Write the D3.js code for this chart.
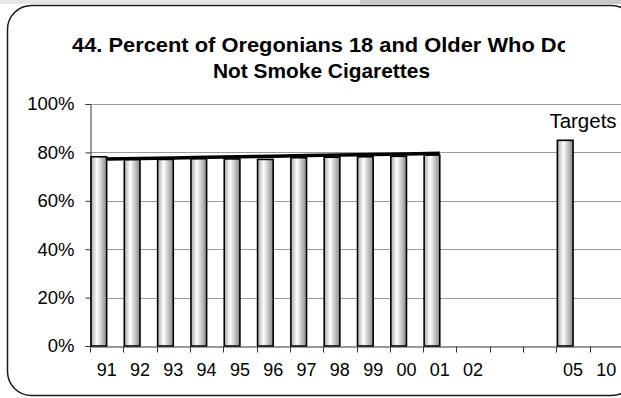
<!DOCTYPE html>
<html>
<head>
<meta charset="utf-8">
<script src="https://cdn.jsdelivr.net/npm/d3@7"></script>
<style>
  html, body { margin: 0; padding: 0; background: #fff; }
  svg { display: block; font-family: Arial, "Liberation Sans", sans-serif; }
</style>
</head>
<body>
<div id="chart"></div>
<script>
// years on the category axis (03 and 04 left empty)
const categories = ["91","92","93","94","95","96","97","98","99","00","01","02","03","04","05","10"];
const tickLabels = ["91","92","93","94","95","96","97","98","99","00","01","02","","","05","10"];
// percent who do not smoke, by year
const actualYears = ["91","92","93","94","95","96","97","98","99","00","01"];
const actualValues = [78.2, 77.1, 77.1, 77.4, 77.3, 77.1, 77.8, 78.0, 78.2, 78.4, 78.9];
// trend line
const trendValues = [77.3, 77.5, 77.7, 78.0, 78.2, 78.4, 78.7, 78.9, 79.1, 79.3, 79.6];
// target
const targetYears = ["05"];
const targetValues = [85];
const yTicks = [0, 20, 40, 60, 80, 100];

const W = 621, H = 398;
const margin = {top: 104, left: 90, bottom: 52};
const plotRight = 623;

const svg = d3.select("#chart").append("svg")
  .attr("width", W).attr("height", H);

// page strip at the top
svg.append("rect").attr("x", 0).attr("y", 0).attr("width", 360).attr("height", 4).attr("fill", "#e6e6e6");
svg.append("rect").attr("x", 360).attr("y", 0).attr("width", W - 360).attr("height", 4).attr("fill", "#c9c9c9");

// rounded frame
svg.append("rect")
  .attr("x", 7.5).attr("y", 5.5)
  .attr("width", 628).attr("height", 390)
  .attr("rx", 24).attr("ry", 24)
  .attr("fill", "#fff")
  .attr("stroke", "#1a1a1a").attr("stroke-width", 1.5);

const defs = svg.append("defs");
const grad = defs.append("linearGradient").attr("id", "barGrad")
  .attr("x1", "0%").attr("x2", "100%").attr("y1", "0%").attr("y2", "0%");
grad.append("stop").attr("offset", "0%").attr("stop-color", "#a8a8a8");
grad.append("stop").attr("offset", "38%").attr("stop-color", "#ffffff");
grad.append("stop").attr("offset", "100%").attr("stop-color", "#8a8a8a");

defs.append("clipPath").attr("id", "titleClip")
  .append("rect").attr("x", 0).attr("y", 0).attr("width", 565).attr("height", 100);

// title
const title = svg.append("g").attr("clip-path", "url(#titleClip)")
  .attr("font-weight", "bold").attr("font-size", 21).attr("fill", "#000");
title.append("text").attr("x", 72).attr("y", 52)
  .attr("text-anchor", "start")
  .attr("textLength", 498).attr("lengthAdjust", "spacingAndGlyphs")
  .text("44. Percent of Oregonians 18 and Older Who Do");
title.append("text").attr("x", 213).attr("y", 78)
  .attr("text-anchor", "start")
  .attr("textLength", 217).attr("lengthAdjust", "spacingAndGlyphs")
  .text("Not Smoke Cigarettes");

const x = d3.scaleBand().domain(categories)
  .range([margin.left, plotRight]).padding(0);
const y = d3.scaleLinear().domain([0, 100])
  .range([H - margin.bottom, margin.top]);
const bw = x.bandwidth();

// gridlines
svg.append("g").selectAll("line")
  .data(yTicks.filter(d => d > 0))
  .enter().append("line")
  .attr("x1", margin.left).attr("x2", plotRight)
  .attr("y1", d => Math.round(y(d)) + 0.5).attr("y2", d => Math.round(y(d)) + 0.5)
  .attr("stroke", "#9a9a9a").attr("stroke-width", 1);

// y axis
const yAxis = svg.append("g")
  .attr("transform", `translate(${margin.left + 0.5},0)`)
  .call(d3.axisLeft(y).tickValues(yTicks).tickSize(5).tickPadding(11).tickFormat(d => d + "%"));
yAxis.select(".domain").attr("stroke", "#333");
yAxis.selectAll(".tick line").attr("stroke", "#333");
yAxis.selectAll("text").attr("font-size", 18.5).attr("fill", "#000")
  .attr("font-family", "Arial, 'Liberation Sans', sans-serif");

// bars
svg.append("g").selectAll("rect")
  .data(actualYears.map((c, i) => ({c, v: actualValues[i]})).concat(
        targetYears.map((c, i) => ({c, v: targetValues[i]}))))
  .enter().append("rect")
  .attr("x", d => x(d.c) + 1)
  .attr("y", d => y(d.v))
  .attr("width", bw / 2 - 1)
  .attr("height", d => y(0) - y(d.v))
  .attr("fill", "url(#barGrad)")
  .attr("stroke", "#000").attr("stroke-width", 1.6);

// trend line
const line = d3.line()
  .x((d, i) => x(actualYears[i]) + bw / 2)
  .y(d => y(d));
svg.append("path").datum(trendValues)
  .attr("d", line)
  .attr("fill", "none").attr("stroke", "#000").attr("stroke-width", 3.5);

// x axis
const xAxis = svg.append("g")
  .attr("transform", `translate(0,${Math.round(y(0)) + 0.5})`)
  .call(d3.axisBottom(x).tickSize(0).tickPadding(17)
    .tickFormat((d, i) => tickLabels[i]));
xAxis.select(".domain").attr("stroke", "#333");
xAxis.selectAll("text").attr("font-size", 18).attr("fill", "#000")
  .attr("font-family", "Arial, 'Liberation Sans', sans-serif");
// tick marks at category boundaries
xAxis.append("g").selectAll("line")
  .data(categories)
  .enter().append("line")
  .attr("x1", d => Math.round(x(d)) + 0.5).attr("x2", d => Math.round(x(d)) + 0.5)
  .attr("y1", 0).attr("y2", 6)
  .attr("stroke", "#333");

// targets label
svg.append("text")
  .attr("x", 583).attr("y", 128)
  .attr("text-anchor", "middle")
  .attr("font-size", 20.5).attr("fill", "#000")
  .text("Targets");
</script>
</body>
</html>
